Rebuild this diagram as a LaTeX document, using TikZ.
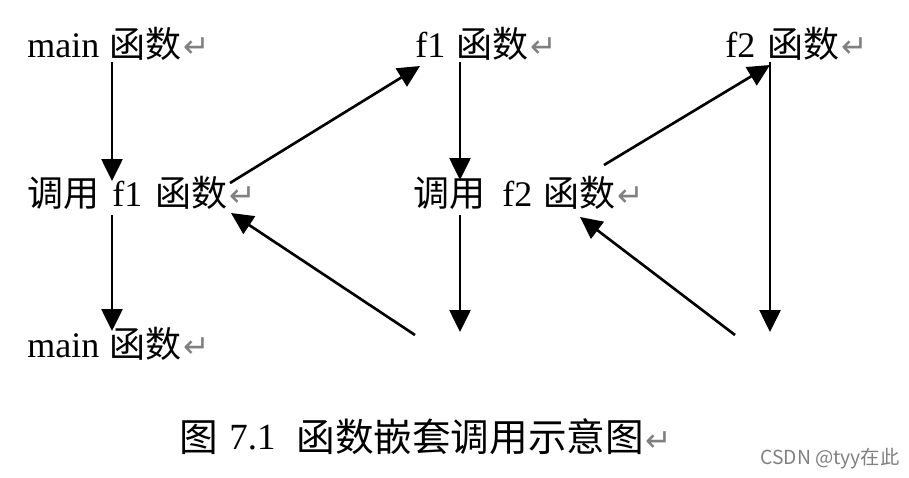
\documentclass[tikz,border=0pt]{standalone}
\usepackage{fontspec}
\setmainfont{Liberation Serif}
\newfontfamily\cjk{Noto Sans CJK SC}
\newfontfamily\symf{DejaVu Sans}
\usetikzlibrary{arrows.meta}
\definecolor{retgray}{RGB}{128,128,128}
\newcommand{\retmark}{\hspace{1pt}{\symf\fontsize{18}{20}\selectfont\color{retgray}↵}}
\tikzset{
  lbl/.style={anchor=base west, inner sep=0pt, font=\fontsize{20.5}{24}\selectfont},
  cj/.style={lbl, font=\cjk\fontsize{20.5}{24}\selectfont},
  capt/.style={anchor=base west, inner sep=0pt, font=\cjk\fontsize{22}{26}\selectfont},
  conn/.style={line width=1.5pt, -{Triangle[length=0.44cm,width=0.42cm]}},
}
\begin{document}
\begin{tikzpicture}[x=0.02cm,y=-0.02cm]
\useasboundingbox (0,0) rectangle (909,477);
% row 1
\node[lbl] (mainA) at (27,57) {main};
\node[cj] (fnA) at (109,57) {函数\retmark};
\node[lbl] (fOne) at (415,57) {f1};
\node[cj] (fnB) at (456,57) {函数\retmark};
\node[lbl] (fTwo) at (725,57) {f2};
\node[cj] (fnC) at (767,57) {函数\retmark};
% row 2
\node[cj] (callA) at (27,206) {调用};
\node[lbl] (callAf) at (112,206) {f1};
\node[cj] (callAfn) at (155,206) {函数\retmark};
\node[cj] (callB) at (413,206) {调用};
\node[lbl] (callBf) at (502,206) {f2};
\node[cj] (callBfn) at (543,206) {函数\retmark};
% row 3
\node[lbl] (mainB) at (27,357) {main};
\node[cj] (fnD) at (109,357) {函数\retmark};
% caption
\node[capt] (capA) at (179,451) {图};
\node[anchor=base west, inner sep=0pt, font=\fontsize{21}{25}\selectfont] (capN) at (229,449) {7.1};
\node[capt] (capB) at (296,451) {函数嵌套调用示意图\retmark};
\node[anchor=base west, inner sep=0pt, font=\cjk\fontsize{11}{13}\selectfont, text=gray] (wm) at (760,464) {CSDN @tyy在此};
% connector ends
\coordinate (a1s) at (112,62);  \coordinate (a1e) at (112,181);
\coordinate (a2s) at (112,215); \coordinate (a2e) at (112,331);
\coordinate (a3s) at (230,183); \coordinate (a3e) at (420,66);
\coordinate (a4s) at (415,335); \coordinate (a4e) at (231,213);
\coordinate (a5s) at (460,62);  \coordinate (a5e) at (460,180);
\coordinate (a6s) at (460,215); \coordinate (a6e) at (460,332);
\coordinate (a7s) at (604,165); \coordinate (a7e) at (770,65);
\coordinate (a8s) at (735,335); \coordinate (a8e) at (580,217);
\coordinate (a9s) at (770,62);  \coordinate (a9e) at (770,332);
\draw[conn] (a1s) -- (a1e);
\draw[conn] (a2s) -- (a2e);
\draw[conn] (a3s) -- (a3e);
\draw[conn] (a4s) -- (a4e);
\draw[conn] (a5s) -- (a5e);
\draw[conn] (a6s) -- (a6e);
\draw[conn] (a7s) -- (a7e);
\draw[conn] (a8s) -- (a8e);
\draw[conn] (a9s) -- (a9e);
\end{tikzpicture}
\end{document}
